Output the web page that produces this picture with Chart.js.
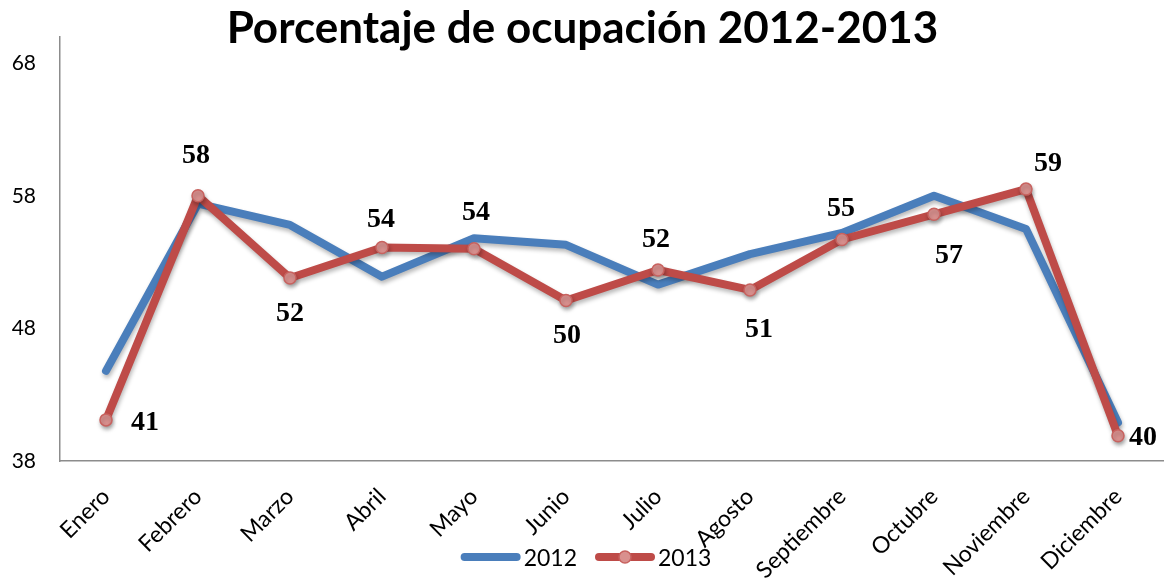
<!DOCTYPE html>
<html>
<head>
<meta charset="utf-8">
<script src="https://cdn.jsdelivr.net/npm/chart.js@4"></script>
<style>
body{margin:0;background:#fff}
#wrap{width:1164px;height:583px}
</style>
</head>
<body>
<div id="wrap"><canvas id="myChart"></canvas></div>
<script>
const meses = ['Enero','Febrero','Marzo','Abril','Mayo','Junio','Julio','Agosto','Septiembre','Octubre','Noviembre','Diciembre'];
const serie2012 = [44.8, 57.4, 55.8, 51.9, 54.8, 54.3, 51.3, 53.6, 55.2, 58.0, 55.5, 40.9];
const serie2013 = [41.1, 58.0, 51.8, 54.1, 54.0, 50.1, 52.4, 50.9, 54.7, 56.6, 58.5, 39.9];
const yTicks = [38, 48, 58, 68];

const blue = '#4A7EBB';
const red = '#BE4B48';

// where each 2013 value label sits, relative to its point
const labelOffsets = [[39,3],[-2,-40],[0,36],[-1,-28],[2,-36],[1,35],[-2,-30],[9,40],[-1,-31],[15,41],[22,-25],[25,2]];

const ctx = document.getElementById('myChart');

const shadow = {
  id: 'shadow',
  beforeDatasetDraw(chart) {
    const c = chart.ctx;
    c.save();
    c.shadowColor = 'rgba(0,0,0,0.28)';
    c.shadowBlur = 4;
    c.shadowOffsetX = 1;
    c.shadowOffsetY = 3;
  },
  afterDatasetDraw(chart) {
    chart.ctx.restore();
  }
};

const valueLabels = {
  id: 'valueLabels',
  afterDatasetsDraw(chart) {
    const c = chart.ctx;
    const meta = chart.getDatasetMeta(1);
    c.save();
    c.font = 'bold 28px "Liberation Serif", "Times New Roman", serif';
    c.fillStyle = '#000';
    c.textAlign = 'center';
    c.textBaseline = 'middle';
    meta.data.forEach((pt, i) => {
      const o = labelOffsets[i];
      c.fillText(Math.round(serie2013[i]), pt.x + o[0], pt.y + o[1]);
    });
    c.restore();
  }
};

// legend drawn by hand so it can overlap the rotated labels like the original
const legendBottom = {
  id: 'legendBottom',
  afterDraw(chart) {
    const c = chart.ctx;
    const y = 557;
    const lineW = 60, gap = 3, itemGap = 18;
    c.save();
    c.font = '23px Lato';
    c.textBaseline = 'middle';
    const items = chart.data.datasets.map(d => ({d, w: lineW + gap + c.measureText(d.label).width}));
    let total = items.reduce((s, it) => s + it.w, 0) + itemGap * (items.length - 1);
    let x = chart.width / 2 - total / 2 + 4;
    items.forEach(it => {
      c.strokeStyle = it.d.borderColor;
      c.lineWidth = 8;
      c.lineCap = 'round';
      c.beginPath();
      c.moveTo(x + 4, y);
      c.lineTo(x + lineW - 4, y);
      c.stroke();
      if (it.d.pointRadius > 0) {
        c.beginPath();
        c.arc(x + lineW / 2, y, 6, 0, Math.PI * 2);
        c.fillStyle = it.d.pointBackgroundColor;
        c.fill();
        c.lineWidth = 1.5;
        c.strokeStyle = it.d.pointBorderColor;
        c.stroke();
      }
      c.fillStyle = '#000';
      c.fillText(it.d.label, x + lineW + gap, y + 2);
      x += it.w + itemGap;
    });
    c.restore();
  }
};

new Chart(ctx, {
  type: 'line',
  data: {
    labels: meses,
    datasets: [{
      label: '2012',
      data: serie2012,
      borderColor: blue,
      backgroundColor: blue,
      borderWidth: 8,
      pointRadius: 0,
      borderCapStyle: 'round',
      borderJoinStyle: 'round',
      tension: 0,
      clip: false,
      order: 1
    }, {
      label: '2013',
      data: serie2013,
      borderColor: red,
      backgroundColor: red,
      borderWidth: 8,
      pointRadius: 6,
      pointBackgroundColor: '#D9908E',
      pointBorderColor: '#C8625F',
      pointBorderWidth: 1.5,
      borderCapStyle: 'round',
      borderJoinStyle: 'round',
      tension: 0,
      clip: false,
      order: 0
    }]
  },
  options: {
    responsive: true,
    maintainAspectRatio: false,
    animation: false,
    layout: { autoPadding: false, padding: { left: 1, right: 0, top: 0, bottom: 0 } },
    plugins: {
      legend: { display: false },
      tooltip: { enabled: false },
      title: {
        display: true,
        text: 'Porcentaje de ocupación 2012-2013',
        color: '#000',
        font: { family: 'Lato', size: 44, weight: 'bold' },
        padding: { top: -1, bottom: -19 }
      }
    },
    scales: {
      x: {
        offset: true,
        grid: { display: false, drawTicks: false },
        border: { display: true, color: '#8c8c8c', width: 1.5 },
        ticks: {
          color: '#000',
          font: { family: 'Lato', size: 23 },
          maxRotation: 45,
          minRotation: 45,
          padding: 22
        },
        afterFit(scale) { scale.height = 122; }
      },
      y: {
        min: 38,
        max: 70,
        grid: { display: false, drawTicks: false },
        border: { display: true, color: '#8c8c8c', width: 1.5 },
        ticks: {
          color: '#000',
          font: { family: 'Lato', size: 21 },
          padding: 24
        },
        afterBuildTicks(scale) {
          scale.ticks = yTicks.map(v => ({ value: v }));
        },
        afterFit(scale) { scale.width = 59; }
      }
    }
  },
  plugins: [shadow, valueLabels, legendBottom]
});
</script>
</body>
</html>
